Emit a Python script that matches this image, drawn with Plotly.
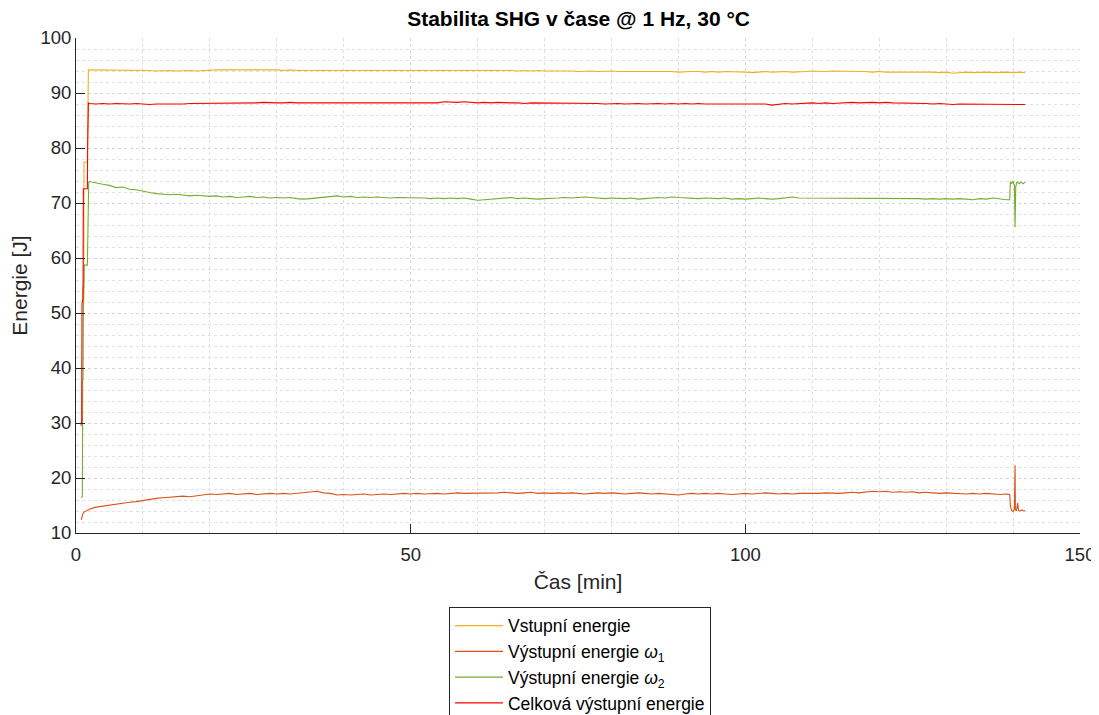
import plotly.graph_objects as go

# ---------------- data ----------------
# common body time axis: every minute from 2 to 139 min
body_t = list(range(2, 140))

# Vstupní energie (input)
vst_start_t = [0.95, 1.0, 1.15, 1.2, 1.7, 1.85]
vst_start_v = [51.8, 54.7, 54.7, 77.4, 77.4, 94.2]
vst_body = [
    94.2, 94.2, 94.1, 94.2, 94.2, 94.1, 94.1, 94.2, 94.1, 94.1,
    94.0, 94.1, 94.1, 94.0, 94.1, 94.1, 94.0, 94.1, 94.1, 94.2,
    94.2, 94.2, 94.3, 94.2, 94.2, 94.3, 94.3, 94.2, 94.2, 94.1,
    94.2, 94.1, 94.1, 94.2, 94.1, 94.1, 94.2, 94.1, 94.1, 94.1,
    94.2, 94.1, 94.1, 94.1, 94.2, 94.1, 94.1, 94.2, 94.2, 94.1,
    94.1, 94.2, 94.2, 94.1, 94.1, 94.2, 94.1, 94.1, 94.2, 94.1,
    94.1, 94.2, 94.1, 94.1, 94.0, 94.1, 94.0, 94.1, 94.0, 94.0,
    94.0, 94.1, 94.0, 93.9, 94.0, 94.0, 93.9, 94.0, 94.0, 93.9,
    93.9, 94.0, 93.9, 93.9, 93.9, 94.0, 93.9, 93.9, 93.8, 93.9,
    93.9, 93.9, 93.8, 93.9, 93.8, 93.9, 93.9, 93.8, 93.8, 93.7,
    93.8, 93.9, 93.8, 93.9, 93.9, 93.8, 93.8, 93.9, 94.0, 93.9,
    93.9, 94.0, 94.0, 93.9, 94.0, 93.9, 93.9, 93.8, 93.9, 93.8,
    93.8, 93.8, 93.9, 93.8, 93.8, 93.9, 93.8, 93.7, 93.8, 93.6,
    93.7, 93.8, 93.7, 93.8, 93.8, 93.7, 93.8, 93.8,
]
vst_end_t = [140.0, 141.0, 141.8]
vst_end_v = [93.7, 93.8, 93.7]

# Výstupní energie ω1
w1_start_t = [0.8, 0.85, 1.0, 1.2, 1.5]
w1_start_v = [12.4, 12.9, 13.4, 13.8, 14.0]
w1_body = [
    14.3, 14.7, 14.9, 15.1, 15.3, 15.4, 15.6, 15.7, 15.9, 16.2,
    16.3, 16.4, 16.5, 16.6, 16.7, 16.6, 16.8, 16.9, 17.1, 17.0,
    17.1, 17.2, 17.0, 17.1, 17.2, 17.0, 17.1, 17.2, 17.1, 17.2,
    17.1, 17.2, 17.3, 17.4, 17.6, 17.3, 17.2, 16.9, 17.0, 16.9,
    17.0, 17.1, 16.9, 17.0, 17.1, 17.0, 17.1, 17.2, 17.1, 17.2,
    17.1, 17.2, 17.2, 17.1, 17.2, 17.3, 17.2, 17.2, 17.3, 17.2,
    17.2, 17.3, 17.4, 17.3, 17.2, 17.3, 17.4, 17.2, 17.3, 17.2,
    17.3, 17.2, 17.3, 17.2, 17.1, 17.2, 17.3, 17.2, 17.3, 17.2,
    17.1, 17.2, 17.3, 17.2, 17.1, 17.2, 17.1, 17.0, 16.9, 17.1,
    17.2, 17.1, 17.2, 17.1, 17.2, 17.1, 17.0, 17.1, 17.2, 17.1,
    17.2, 17.3, 17.2, 17.1, 17.2, 17.1, 17.2, 17.2, 17.1, 17.2,
    17.3, 17.2, 17.2, 17.3, 17.4, 17.3, 17.4, 17.6, 17.5, 17.6,
    17.4, 17.5, 17.4, 17.5, 17.3, 17.4, 17.3, 17.2, 17.3, 17.2,
    17.2, 17.1, 17.2, 17.1, 17.2, 17.1, 17.0, 17.1,
]
w1_end_t = [139.5, 139.6, 139.75, 140.0, 140.2, 140.3, 140.35, 140.5, 140.7, 140.8, 141.0, 141.3, 141.5, 141.8]
w1_end_v = [17.0, 15.0, 14.1, 13.9, 14.4, 22.3, 14.2, 14.0, 15.5, 14.1, 14.0, 14.2, 14.0, 14.1]

# Výstupní energie ω2
w2_start_t = [0.8, 0.95, 1.0, 1.05, 1.1, 1.25, 1.7, 1.75, 1.85, 1.9]
w2_start_v = [16.4, 16.6, 37.8, 38.0, 50.0, 58.7, 58.7, 66.8, 67.5, 73.8]
w2_body = [
    73.9, 73.6, 73.4, 73.2, 72.8, 72.9, 72.5, 72.4, 72.1, 71.9,
    71.7, 71.6, 71.5, 71.6, 71.4, 71.3, 71.4, 71.3, 71.2, 71.3,
    71.1, 71.2, 71.0, 71.1, 71.2, 71.0, 71.1, 70.9, 71.0, 70.9,
    71.0, 70.8, 70.7, 70.8, 70.9, 71.1, 71.2, 71.3, 71.1, 71.2,
    71.0, 71.1, 71.0, 71.1, 71.0, 70.9, 71.0, 71.0, 70.9, 71.0,
    70.9, 70.8, 70.9, 70.8, 70.9, 70.8, 70.9, 70.7, 70.5, 70.6,
    70.7, 70.8, 70.9, 71.0, 70.8, 70.9, 70.8, 70.7, 70.8, 70.8,
    70.9, 71.0, 70.9, 71.0, 71.1, 71.0, 70.9, 70.8, 70.9, 70.8,
    70.8, 70.9, 70.7, 70.8, 70.9, 71.0, 70.9, 71.1, 71.0, 70.9,
    70.9, 70.8, 70.9, 70.8, 70.8, 70.9, 70.7, 70.8, 70.7, 70.8,
    70.9, 70.8, 70.7, 70.8, 71.0, 71.1, 70.9, 70.9, 70.8, 70.9,
    70.9, 70.8, 70.9, 70.8, 70.9, 70.8, 70.8, 70.9, 70.8, 70.8,
    70.9, 70.8, 70.9, 70.9, 70.8, 70.7, 70.8, 70.7, 70.8, 70.7,
    70.8, 70.7, 70.6, 70.8, 70.7, 70.9, 70.7, 70.6,
]
w2_end_t = [139.5, 139.6, 139.8, 140.0, 140.2, 140.3, 140.4, 140.6, 140.9, 141.2, 141.5, 141.8]
w2_end_v = [70.6, 73.9, 73.5, 74.0, 73.2, 65.6, 73.0, 73.9, 73.5, 73.8, 73.5, 73.8]

# Celková výstupní energie
tot_start_t = [0.75, 0.85, 0.9, 1.05, 1.1, 1.7, 1.75, 1.85]
tot_start_v = [29.5, 30.5, 51.8, 52.5, 72.6, 72.6, 81.1, 88.2]
tot_body = [
    88.1, 88.0, 88.1, 88.0, 88.1, 88.0, 88.0, 88.1, 88.0, 87.9,
    88.0, 88.0, 87.9, 88.0, 88.0, 88.1, 88.1, 88.1, 88.2, 88.1,
    88.2, 88.1, 88.2, 88.1, 88.2, 88.2, 88.3, 88.2, 88.2, 88.2,
    88.3, 88.2, 88.2, 88.3, 88.2, 88.2, 88.3, 88.2, 88.3, 88.2,
    88.2, 88.3, 88.2, 88.2, 88.3, 88.2, 88.2, 88.3, 88.3, 88.2,
    88.3, 88.3, 88.2, 88.4, 88.3, 88.3, 88.4, 88.3, 88.2, 88.3,
    88.2, 88.3, 88.2, 88.2, 88.2, 88.1, 88.2, 88.2, 88.1, 88.2,
    88.1, 88.2, 88.1, 88.1, 88.2, 88.1, 88.1, 88.0, 88.1, 88.1,
    88.0, 88.1, 88.1, 88.0, 88.1, 88.1, 88.0, 88.1, 88.0, 88.1,
    88.0, 88.1, 88.0, 88.0, 88.1, 88.0, 88.0, 88.1, 88.0, 88.1,
    88.0, 88.0, 87.8, 87.9, 88.1, 88.0, 88.1, 88.1, 88.2, 88.1,
    88.2, 88.1, 88.2, 88.2, 88.3, 88.2, 88.3, 88.3, 88.2, 88.3,
    88.2, 88.2, 88.1, 88.2, 88.1, 88.1, 88.0, 88.1, 88.0, 87.9,
    88.0, 88.0, 87.9, 88.0, 87.9, 88.0, 87.9, 88.0,
]
tot_end_t = [140.0, 141.0, 141.8]
tot_end_v = [87.9, 88.0, 87.9]

names = [
    "Vstupní energie",
    "Výstupní energie <i>ω</i><sub>1</sub>",
    "Výstupní energie <i>ω</i><sub>2</sub>",
    "Celková výstupní energie",
]
colors = ["#EDB120", "#D95319", "#77AC30", "#FF0000"]

x_ticks = [0, 50, 100, 150]
y_ticks = [10, 20, 30, 40, 50, 60, 70, 80, 90, 100]

series = [
    (vst_start_t, vst_start_v, vst_body, vst_end_t, vst_end_v),
    (w1_start_t, w1_start_v, w1_body, w1_end_t, w1_end_v),
    (w2_start_t, w2_start_v, w2_body, w2_end_t, w2_end_v),
    (tot_start_t, tot_start_v, tot_body, tot_end_t, tot_end_v),
]

FONT = "Liberation Sans, Arial, sans-serif"

fig = go.Figure()
for (st, sv, bv, et, ev), name, col in zip(series, names, colors):
    fig.add_trace(go.Scatter(
        x=st + body_t + et,
        y=sv + bv + ev,
        mode="lines",
        name=name,
        line=dict(color=col, width=1.1),
    ))

axis_common = dict(
    showline=True, linecolor="#262626", linewidth=1,
    ticks="inside", ticklen=9, tickcolor="#262626", tickwidth=1,
    showgrid=True, gridcolor="#d6d6d6", griddash="dot", gridwidth=1,
    zeroline=False, mirror=False, automargin=False,
    tickfont=dict(family=FONT, size=18.5, color="#262626"),
)

# The page body has an 8 px margin, so the figure is laid out 8 px smaller.
fig.update_layout(
    width=1091, height=707,
    paper_bgcolor="white", plot_bgcolor="white",
    margin=dict(l=68, r=19, t=29.5, b=182, autoexpand=False),
    title=dict(
        text="<b>Stabilita SHG v čase @ 1 Hz, 30 °C</b>",
        x=0.523, xanchor="center", y=0.985, yanchor="middle",
        font=dict(family=FONT, size=21, color="black"),
    ),
    xaxis=dict(
        range=[0, 150], tickvals=x_ticks, ticklabelstandoff=5,
        title=dict(text="Čas [min]", font=dict(family=FONT, size=21, color="#262626"), standoff=10),
        minor=dict(dtick=10, tick0=0, showgrid=True, gridcolor="#e0e0e0", griddash="dot", ticks=""),
        **axis_common,
    ),
    yaxis=dict(
        range=[10, 100], tickvals=y_ticks,
        title=dict(text="Energie [J]", font=dict(family=FONT, size=21, color="#262626"), standoff=10),
        minor=dict(dtick=2, tick0=10, showgrid=True, gridcolor="#e0e0e0", griddash="dot", ticks=""),
        **axis_common,
    ),
    legend=dict(
        x=0.3715, xanchor="left", y=-0.149, yanchor="top",
        bgcolor="white", bordercolor="#262626", borderwidth=1,
        font=dict(family=FONT, size=17.5, color="black"),
        itemwidth=48, tracegroupgap=0,
    ),
    showlegend=True,
)

fig.write_html("out.html")
